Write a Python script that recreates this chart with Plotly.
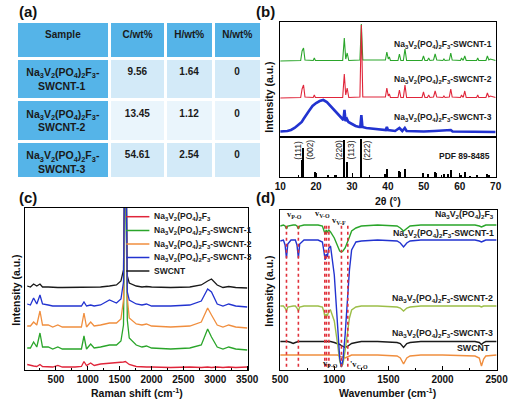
import plotly.graph_objects as go

W, H = 524, 402
FONT = "Liberation Sans, Arial, sans-serif"
SERIF = "Liberation Serif, Times New Roman, serif"
NVPF = "Na<sub>3</sub>V<sub>2</sub>(PO<sub>4</sub>)<sub>2</sub>F<sub>3</sub>"
PAD = "\u00a0" * 4

# ---------------- (a) table ----------------
table_header = ["Sample", "C/wt%", "H/wt%", "N/wt%"]
sample_names = [NVPF + "-<br>" + PAD + "SWCNT-1", NVPF + "-<br>" + PAD + "SWCNT-2",
                NVPF + "-<br>" + PAD + "SWCNT-3"]
c_wt = ["9.56", "13.45", "54.61"]
h_wt = ["1.64", "1.12", "2.54"]
n_wt = ["0", "0", "0"]

# ---------------- (b) XRD ----------------
xrd_tt = [10.0, 15.7, 16.1, 16.5, 16.9, 19.2, 19.5, 19.8, 27.4, 27.85, 28.25, 28.65, 29.1,
          32.2, 32.6, 33.0, 39.3, 39.7, 40.1, 40.4, 40.7, 42.8, 43.2, 43.6, 44.3, 44.75,
          45.2, 49.5, 49.9, 50.3, 51.0, 51.35, 51.7, 52.7, 53.15, 53.6, 55.3, 55.6, 55.9,
          57.1, 57.5, 57.9, 60.2, 60.5, 60.8, 61.0, 61.4, 61.8, 64.7, 65.0, 65.3, 67.3,
          67.7, 68.1, 68.5, 70.0]
xrd_swcnt1 = [0, 0.5, 10, 13, 1, 0.5, 3, 0.5, 0.5, 23, 2, 8, 0.5,
              1, 37, 1, 1, 9, 2, 4, 0.5, 0.5, 7, 0.5, 0.5, 12,
              0.5, 0.5, 5, 0.5, 0.5, 3, 0.5, 1, 7, 1, 0.5, 2, 0.5,
              1, 8, 1, 0.5, 3, 1, 1, 5, 0.5, 0.5, 3, 0.5, 0.5,
              5, 1, 2, 0.5]
xrd_swcnt2 = [0, 0.5, 9, 13, 1, 0.5, 3, 0.5, 0.5, 24, 3, 10, 0.5,
              1, 73, 1, 1, 10, 2, 4, 0.5, 0.5, 8, 0.5, 0.5, 13,
              0.5, 0.5, 6, 0.5, 0.5, 3, 0.5, 1, 7, 1, 0.5, 2, 0.5,
              1, 9, 1, 0.5, 3, 1, 1, 7, 0.5, 0.5, 3, 0.5, 0.5,
              5, 1, 2, 0.5]
xrd3_tt = [10, 11, 12, 13, 14, 15, 16, 16.5, 17, 18, 19, 20, 21, 22, 23, 24, 25, 26, 27,
           27.6, 27.9, 28.2, 28.6, 29, 30, 31, 32, 32.3, 32.6, 32.9, 34, 36, 38, 39.4, 39.7,
           40, 42, 43.2, 44, 44.7, 45.2, 50, 53, 57.5, 58, 61, 65, 70]
xrd_swcnt3 = [1.5, 1.5, 2, 3, 5, 8, 11, 14, 17, 22, 27, 30, 32, 33, 31, 27, 23, 19, 15,
              13, 23, 12, 14, 11, 9, 7, 6, 6, 18, 6, 5, 4, 3, 3, 6,
              3, 2, 5, 2, 5, 2, 1.5, 2, 3, 1.5, 1.5, 1, 1]
xrd_offsets = [76, 39, 4]
xrd_names = [NVPF + "-SWCNT-1", NVPF + "-SWCNT-2", NVPF + "-SWCNT-3"]

pdf_pos = [16.1, 16.5, 19.7, 23.5, 25.7, 27.9, 28.7, 32.6, 39.2, 39.7, 43.1, 43.3, 44.7,
           49.8, 51.3, 53.1, 53.4, 55.6, 56.9, 57.5, 60.4, 61.4, 63.0, 65.0, 67.6, 68.3]
pdf_int = [17, 29, 5, 2, 2, 37, 15, 38, 3, 8, 6, 5, 8,
           4, 3, 5, 4, 3, 3, 7, 2, 5, 1, 2, 3, 2]
hkl_labels = ["(111)", "(002)", "(220)", "(113)", "(222)"]
hkl_pos = [14.9, 18.2, 26.4, 29.6, 34.3]

# ---------------- (c) Raman ----------------
raman_x = [50, 100, 150, 200, 250, 290, 380, 450, 530, 600, 800, 900, 940, 980, 1045, 1100,
           1200, 1340, 1450, 1520, 1560, 1590, 1620, 1650, 1760, 1850, 1920, 2000, 2300,
           2600, 2780, 2880, 2940, 3030, 3120, 3210, 3320, 3500]
raman_nvpf = [3, 2, 1.5, 1, 3, 1, 0.5, 0.5, 2, 0.5, 0.5, 1, 6, 2, 4.5, 2,
              3.5, 4, 4.5, 5, 5.5, 6, 4, 3, 1, 0.5, 0.5, 0.5, 0,
              0.5, 0, 0.5, 0, 0.5, 0, 0.5, 0, 0.5]
raman_swcnt1 = [2, 2, 8, 3, 17, 3, 3, 1, 3, 1, 1, 1, 14, 1, 6, 2,
                3, 5, 5, 9, 25, 200, 30, 12, 5, 3, 4, 2, 1,
                2, 5, 21, 13, 3, 1, 3, 1, 0]
raman_swcnt2 = [2, 2, 6, 3, 17, 3, 3, 1, 3, 1, 1, 1, 15, 1, 6, 2,
                3, 5, 5, 9, 28, 200, 30, 10, 4, 3, 4, 2, 1,
                2, 6, 20, 13, 3, 1, 3, 1, 0]
raman_swcnt3 = [3, 2, 9, 3, 12, 3, 2, 1, 1, 1, 1, 1, 5, 1, 2, 1,
                2, 7, 4, 8, 25, 200, 15, 7, 3, 2, 3, 1, 1,
                2, 6, 18, 15, 3, 1, 3, 1, 0]
raman_swcnt = [2, 1, 4, 2, 4, 1, 1, 0.5, 0.5, 0.5, 0.5, 0.5, 0.5, 0.5, 0.5, 0.5,
               1, 2, 3, 7, 18, 200, 12, 5, 2, 1, 1.5, 1, 0.5,
               1, 3, 7, 9, 3, 0.5, 1.5, 0.5, 0]
raman_names = [NVPF, NVPF + "-SWCNT-1", NVPF + "-SWCNT-2", NVPF + "-SWCNT-3", "SWCNT"]
raman_offsets = [2.5, 20, 42, 63, 82]

# ---------------- (d) FTIR ----------------
ftir_x = [500, 530, 545, 558, 570, 600, 620, 640, 655, 668, 680, 720, 850, 890, 905, 915,
          925, 935, 950, 965, 1000, 1030, 1050, 1065, 1080, 1100, 1120, 1140, 1160, 1200,
          1250, 1400, 1580, 1610, 1640, 1670, 1700, 1800, 2000, 2300, 2340, 2360, 2380,
          2400, 2500]
ftir_nvpf = [-1, 0, -1, -4, -1, 0, 0, 0, -1, -4, -1, 0, 0, -1, -5, -9,
             -5, -7, -5, -7, -13, -21, -26, -27, -26, -23, -18, -12, -6, -3,
             -1, 0, -1, -3, -6, -3, -1, 0, 0, 0, -1, -2, -1,
             0, 0]
ftir_swcnt1 = [-1, 0, -5, -18, -4, 0, 0, 0, -5, -18, -4, 0, 0, -2, -12, -20,
               -14, -17, -8, -6, -35, -80, -118, -127, -120, -95, -62, -30, -10, -2,
               -1, 0, -1, -3, -7, -3, -1, 0, 0, 0, -1, -2, -1,
               0, 0]
ftir_swcnt2 = [0, 0, -2, -5, -1, 0, 0, 0, -2, -5, -1, 0, 0, -1, -6, -12,
               -8, -10, -5, -4, -15, -38, -55, -61, -58, -45, -28, -12, -4, -1,
               0, 0, -1, -2, -5, -2, -1, 0, 0, 0, 0, -1, 0,
               0, 0]
ftir_swcnt3 = [0, 0, 0, 0, 0, -1, -2, -1, 0, 0, 0, 0, 0, 0, 0, 0,
               0, 0, 0, 0, -1, -2, -3, -4, -5, -6, -5, -3, -2, -1,
               0, 0, -1, -2, -6, -2, -1, 0, 0, 0, -1, -3, -1,
               0, 0]
ftir_swcnt = [0, 0, 0, 0, 0, 0, 0, 0, 0, 0, 0, 0, 0, 0, 0, 0,
              0, 0, 0, 0, 0, 0, -1, -2, -2, -3, -2, -1, 0, 0,
              0, 0, -1, -3, -9, -3, -1, 0, 0, -1, -3, -11, -4,
              -1, 0]
ftir_offsets = [145, 130, 64, 28.5, 15]
ftir_names = [NVPF, NVPF + "-SWCNT-1", NVPF + "-SWCNT-2", NVPF + "-SWCNT-3", "SWCNT"]
band_lines = [558, 668, 912, 928, 950, 1066, 1125]

# ---------------- colours ----------------
GREEN = "#2AA52A"
RED = "#E0253A"
BLUE = "#2233D0"
ORANGE = "#F08E3E"
BLACK = "#1A1A1A"
YGREEN = "#9CBE48"
HEAD = "#55B4E8"
LIGHT1 = "#D3EAF8"
LIGHT2 = "#EAF5FC"


def px_x(p):
    return p / W


def px_y(p):
    return 1 - p / H


fig = go.Figure()

# table
fig.add_trace(go.Table(
    domain=dict(x=[px_x(9), px_x(264)], y=[px_y(178), px_y(21)]),
    columnwidth=[88, 53, 45, 46],
    header=dict(values=["<b>%s</b>" % h for h in table_header],
                fill_color=HEAD, line=dict(color="white", width=3),
                align="center", height=37,
                font=dict(family=FONT, size=10, color="#1a1a1a")),
    cells=dict(values=[["<b>%s</b>" % s for s in sample_names],
                       ["<b>%s</b>" % v for v in c_wt],
                       ["<b>%s</b>" % v for v in h_wt],
                       ["<b>%s</b>" % v for v in n_wt]],
               fill_color=[[HEAD] * 3, [LIGHT1, LIGHT2, LIGHT1], [LIGHT1, LIGHT2, LIGHT1],
                           [LIGHT1, LIGHT2, LIGHT1]],
               line=dict(color="white", width=3),
               align="center", height=38,
               font=dict(family=FONT, size=[10.5, 10, 10, 10], color="#1a1a1a")),
))

# XRD
for vals, off, col, w in [(xrd_swcnt1, xrd_offsets[0], GREEN, 1.1),
                          (xrd_swcnt2, xrd_offsets[1], RED, 1.1)]:
    fig.add_trace(go.Scatter(x=xrd_tt, y=[v + off for v in vals], mode="lines",
                             line=dict(color=col, width=w), xaxis="x", yaxis="y",
                             showlegend=False))
fig.add_trace(go.Scatter(x=xrd3_tt, y=[v + xrd_offsets[2] for v in xrd_swcnt3], mode="lines",
                         line=dict(color=BLUE, width=2.6), xaxis="x", yaxis="y",
                         showlegend=False))
fig.add_trace(go.Bar(x=pdf_pos, y=pdf_int, width=0.28, marker=dict(color="black", line_width=0),
                     xaxis="x2", yaxis="y2", showlegend=False))

# Raman
raman_sets = [raman_nvpf, raman_swcnt1, raman_swcnt2, raman_swcnt3, raman_swcnt]
raman_cols = [RED, GREEN, ORANGE, BLUE, BLACK]
for i in [4, 0, 1, 2, 3]:
    fig.add_trace(go.Scatter(x=raman_x, y=[v + raman_offsets[i] for v in raman_sets[i]],
                             mode="lines", line=dict(color=raman_cols[i], width=1.3),
                             xaxis="x3", yaxis="y3", showlegend=False))

# FTIR
ftir_sets = [ftir_nvpf, ftir_swcnt1, ftir_swcnt2, ftir_swcnt3, ftir_swcnt]
ftir_cols = [GREEN, BLUE, YGREEN, BLACK, ORANGE]
for i in [4, 3, 2, 1, 0]:
    fig.add_trace(go.Scatter(x=ftir_x, y=[v + ftir_offsets[i] for v in ftir_sets[i]],
                             mode="lines", line=dict(color=ftir_cols[i], width=1.4),
                             xaxis="x4", yaxis="y4", showlegend=False))

shapes = []
for b in band_lines:
    shapes.append(dict(type="line", xref="x4", yref="y4 domain", x0=b, x1=b, y0=0.02, y1=0.91,
                       line=dict(color="#E0303A", width=1.6, dash="dot"), layer="above"))

# manual legend for (c)
leg_y = [216.7, 230.5, 244, 257.5, 271]
annotations = []
for i, name in enumerate(raman_names):
    shapes.append(dict(type="line", xref="paper", yref="paper", x0=px_x(123), x1=px_x(147),
                       y0=px_y(leg_y[i]), y1=px_y(leg_y[i]),
                       line=dict(color=raman_cols[i], width=1.5)))
    annotations.append(dict(text=name, xref="paper", yref="paper", x=px_x(150), y=px_y(leg_y[i]),
                            xanchor="left", yanchor="middle", showarrow=False,
                            font=dict(family=FONT, size=8.5, color="#1a1a1a", weight="bold")))

# panel labels
for lab, x, y in [("(a)", 9, 11), ("(b)", 256, 11), ("(c)", 9, 197), ("(d)", 256, 197)]:
    annotations.append(dict(text=lab, xref="paper", yref="paper", x=px_x(x), y=px_y(y),
                            xanchor="left", yanchor="middle", showarrow=False,
                            font=dict(family=FONT, size=15, color="#111", weight="bold")))

# XRD series labels
for name, yv in zip(xrd_names, [92, 57, 19]):
    annotations.append(dict(text=name, xref="x", yref="y", x=69.5, y=yv, xanchor="right",
                            yanchor="middle", showarrow=False,
                            font=dict(family=FONT, size=8.5, color="#1a1a1a", weight="bold")))
for lab, pos in zip(hkl_labels, hkl_pos):
    annotations.append(dict(text=lab, xref="x2", yref="y2", x=pos, y=27, textangle=-90,
                            xanchor="center", yanchor="middle", showarrow=False,
                            font=dict(family=FONT, size=8.5, color="#1a1a1a")))
annotations.append(dict(text="PDF 89-8485", xref="x2", yref="y2", x=68.9, y=21, xanchor="right",
                        yanchor="middle", showarrow=False,
                        font=dict(family=FONT, size=8.5, color="#1a1a1a", weight="bold")))

# FTIR series labels
for name, yv, xr in zip(ftir_names, [155, 136.7, 71.7, 36.7, 21.7], [507, 507, 506, 506, 503]):
    annotations.append(dict(text=name, xref="paper", yref="y4", x=px_x(xr),
                            y=yv, xanchor="right", yanchor="middle", showarrow=False,
                            font=dict(family=FONT, size=8.8, color="#1a1a1a", weight="bold")))
# band annotations
for txt, x, y, anc in [("v<sub>P-O</sub>", 546, 155, "left"), ("v<sub>V-O</sub>", 800, 156, "left"),
                       ("v<sub>V-F</sub>", 962, 149, "left"), ("v<sub>P-O</sub>", 1050, 7, "right"),
                       ("'v<sub>C-O</sub>", 1128, 6, "left")]:
    annotations.append(dict(text=txt, xref="x4", yref="y4", x=x, y=y, xanchor=anc, yanchor="middle",
                            showarrow=False,
                            font=dict(family=SERIF, size=8.5, color="#1a1a1a", weight="bold")))

# axis titles
titles = [("2θ (°)", 395, 201, 0), ("Raman shift (cm<sup>-1</sup>)", 134, 392, 0),
          ("Wavenumber (cm<sup>-1</sup>)", 395, 392, 0),
          ("Intensity (a.u.)", 271, 97, -90), ("Intensity (a.u.)", 8, 290, -90),
          ("Intensity (a.u.)", 271, 291, -90)]
for txt, x, y, ang in titles:
    annotations.append(dict(text=txt, xref="paper", yref="paper", x=px_x(x), y=px_y(y),
                            xanchor="center", yanchor="middle", textangle=ang, showarrow=False,
                            font=dict(family=FONT, size=10.5, color="#111", weight="bold")))

axis_common = dict(showline=True, mirror=True, linecolor="black", linewidth=1, showgrid=False,
                   zeroline=False)
tickfont = dict(family=FONT, size=10, color="#111", weight="bold")

fig.update_layout(
    width=W, height=H, margin=dict(l=0, r=0, t=0, b=0),
    paper_bgcolor="white", plot_bgcolor="white",
    font=dict(family=FONT),
    shapes=shapes, annotations=annotations, bargap=0,
    xaxis=dict(domain=[px_x(283), px_x(507)], anchor="y", range=[10, 70], showticklabels=False,
               ticks="", **axis_common),
    yaxis=dict(domain=[px_y(137), px_y(22)], anchor="x", range=[0, 115], showticklabels=False,
               ticks="", **axis_common),
    xaxis2=dict(domain=[px_x(283), px_x(507)], anchor="y2", range=[10, 70], dtick=10, tick0=10,
                ticks="inside", ticklen=4, tickcolor="black", tickfont=tickfont,
                minor=dict(dtick=5, ticks="inside", ticklen=2, tickcolor="black"), **axis_common),
    yaxis2=dict(domain=[px_y(177), px_y(137)], anchor="x2", range=[0, 40], showticklabels=False,
                ticks="", **axis_common),
    xaxis3=dict(domain=[px_x(18), px_x(250)], anchor="y3", range=[20, 3520], dtick=500, tick0=0,
                ticks="inside", ticklen=4, tickcolor="black", tickfont=tickfont,
                minor=dict(dtick=250, ticks="inside", ticklen=2, tickcolor="black"), **axis_common),
    yaxis3=dict(domain=[px_y(370), px_y(208)], anchor="x3", range=[0, 162], showticklabels=False,
                ticks="", **axis_common),
    xaxis4=dict(domain=[px_x(283), px_x(508)], anchor="y4", range=[500, 2500], dtick=500, tick0=0,
                ticks="inside", ticklen=4, tickcolor="black", tickfont=tickfont,
                minor=dict(dtick=250, ticks="inside", ticklen=2, tickcolor="black"), **axis_common),
    yaxis4=dict(domain=[px_y(370), px_y(210)], anchor="x4", range=[0, 160], showticklabels=False,
                ticks="", **axis_common),
)

fig.write_html("out.html", config={"displayModeBar": False},
               post_script="document.body.style.margin='0px';"
               "document.body.style.padding='0px';")
